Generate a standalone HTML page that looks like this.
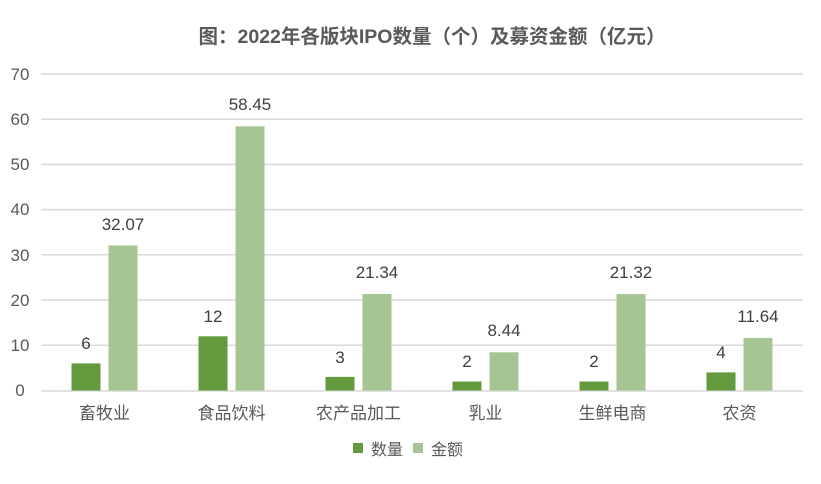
<!DOCTYPE html>
<html><head><meta charset="utf-8"><style>
html,body{margin:0;padding:0;background:#fff;}
text{font-family:"Liberation Sans","Noto Sans CJK SC",sans-serif;}
</style></head><body>
<svg width="821" height="479" xmlns="http://www.w3.org/2000/svg">
<rect width="821" height="479" fill="#fff"/>
<text x="432" y="43" text-anchor="middle" font-size="19.5" font-weight="bold" fill="#595959">图：2022年各版块IPO数量（个）及募资金额（亿元）</text>
<g stroke="#d9d9d9" stroke-width="1.5">
<line x1="41" x2="803" y1="74" y2="74"/>
<line x1="41" x2="803" y1="119.2" y2="119.2"/>
<line x1="41" x2="803" y1="164.4" y2="164.4"/>
<line x1="41" x2="803" y1="209.6" y2="209.6"/>
<line x1="41" x2="803" y1="254.8" y2="254.8"/>
<line x1="41" x2="803" y1="300" y2="300"/>
<line x1="41" x2="803" y1="345.2" y2="345.2"/>
<line x1="41" x2="803" y1="391" y2="391"/>
</g>
<g font-size="17" fill="#595959" text-anchor="middle">
<text x="20" y="80">70</text><text x="20" y="125">60</text><text x="20" y="170">50</text><text x="20" y="215">40</text><text x="20" y="261">30</text><text x="20" y="306">20</text><text x="20" y="351">10</text><text x="20" y="396">0</text>
</g>
<g fill="#629a3d">
<rect x="71.5" y="363.4" width="29" height="27.1"/>
<rect x="198.5" y="336.3" width="29" height="54.2"/>
<rect x="325.5" y="376.9" width="29" height="13.6"/>
<rect x="452.5" y="381.5" width="29" height="9"/>
<rect x="579.5" y="381.5" width="29" height="9"/>
<rect x="706.5" y="372.4" width="29" height="18.1"/>
</g>
<g fill="#a5c693">
<rect x="108.5" y="245.5" width="29" height="145"/>
<rect x="235.5" y="126.3" width="29" height="264.2"/>
<rect x="362.5" y="294" width="29" height="96.5"/>
<rect x="489.5" y="352.3" width="29" height="38.2"/>
<rect x="616.5" y="294.1" width="29" height="96.4"/>
<rect x="743.5" y="337.9" width="29" height="52.6"/>
</g>
<g font-size="17" fill="#404040" text-anchor="middle">
<text x="86" y="349">6</text><text x="213" y="322">12</text><text x="340" y="363">3</text><text x="467" y="367">2</text><text x="594" y="367">2</text><text x="721" y="358">4</text>
<text x="123" y="230">32.07</text><text x="250" y="110">58.45</text><text x="377" y="278">21.34</text><text x="504" y="336">8.44</text><text x="631" y="278">21.32</text><text x="758" y="322">11.64</text>
</g>
<g font-size="17" fill="#595959" text-anchor="middle">
<text x="104.5" y="419">畜牧业</text><text x="231.5" y="419">食品饮料</text><text x="358.5" y="419">农产品加工</text><text x="485.5" y="419">乳业</text><text x="612.5" y="419">生鲜电商</text><text x="739.5" y="419">农资</text>
</g>
<rect x="353" y="443" width="10" height="10" fill="#629a3d"/>
<text x="371" y="455" font-size="16" fill="#595959">数量</text>
<rect x="413" y="443" width="10" height="10" fill="#a5c693"/>
<text x="431" y="455" font-size="16" fill="#595959">金额</text>
</svg>
</body></html>
